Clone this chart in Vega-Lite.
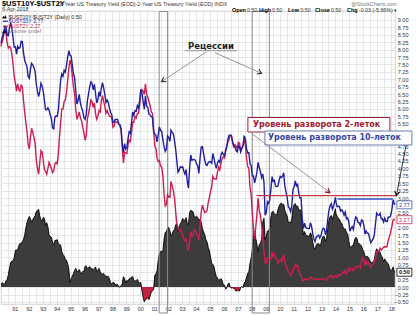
{
 "$schema": "https://vega.github.io/schema/vega-lite/v6.json",
 "width": 394, "height": 293,
 "autosize": {"type": "none"},
 "padding": {"left": 1, "top": 11, "right": 23, "bottom": 11},
 "background": "white",
 "config": {"view": {"stroke": "#c8c8c8", "strokeWidth": 0.8}, "font": "Liberation Sans",
   "axis": {"labelOverlap": false, "labelFontSize": 5.5, "labelColor": "#333", "gridColor": "#dcdcdc", "gridWidth": 0.7, "domain": false, "ticks": false, "tickSize": 0, "labelBound": false, "labelFlush": false, "title": null}},
 "datasets": {"yields": [
{"d":"1990-01-02","a":8.21,"b":8.11,"s":0.10},{"d":"1990-02-15","a":8.47,"b":8.32,"s":0.15},{"d":"1990-03-15","a":8.59,"b":8.50,"s":0.09},{"d":"1990-04-15","a":8.79,"b":8.68,"s":0.11},{"d":"1990-05-15","a":8.76,"b":8.55,"s":0.21},{"d":"1990-06-15","a":8.48,"b":8.22,"s":0.26},{"d":"1990-07-15","a":8.47,"b":8.05,"s":0.42},{"d":"1990-08-15","a":8.75,"b":8.10,"s":0.65},{"d":"1990-09-15","a":8.89,"b":8.05,"s":0.84},{"d":"1990-10-15","a":8.72,"b":7.85,"s":0.87},{"d":"1990-11-15","a":8.39,"b":7.50,"s":0.89},{"d":"1990-12-15","a":8.08,"b":7.10,"s":0.98},
{"d":"1991-01-15","a":8.09,"b":6.85,"s":1.24},{"d":"1991-02-15","a":7.85,"b":6.60,"s":1.25},{"d":"1991-03-15","a":8.11,"b":6.85,"s":1.26},{"d":"1991-04-15","a":8.04,"b":6.65,"s":1.39},{"d":"1991-05-15","a":8.07,"b":6.60,"s":1.47},{"d":"1991-06-15","a":8.28,"b":6.80,"s":1.48},{"d":"1991-07-15","a":8.27,"b":6.75,"s":1.52},{"d":"1991-08-15","a":7.90,"b":6.30,"s":1.60},{"d":"1991-09-15","a":7.65,"b":5.90,"s":1.75},{"d":"1991-10-15","a":7.53,"b":5.55,"s":1.98},{"d":"1991-11-15","a":7.42,"b":5.25,"s":2.17},{"d":"1991-12-15","a":7.09,"b":4.80,"s":2.29},
{"d":"1992-01-15","a":7.03,"b":4.65,"s":2.38},{"d":"1992-02-15","a":7.34,"b":5.05,"s":2.29},{"d":"1992-03-15","a":7.54,"b":5.35,"s":2.19},{"d":"1992-04-15","a":7.48,"b":5.20,"s":2.28},{"d":"1992-05-15","a":7.39,"b":5.05,"s":2.34},{"d":"1992-06-15","a":7.26,"b":4.85,"s":2.41},{"d":"1992-07-15","a":6.84,"b":4.30,"s":2.54},{"d":"1992-08-15","a":6.59,"b":4.00,"s":2.59},{"d":"1992-09-15","a":6.42,"b":3.80,"s":2.62},{"d":"1992-10-15","a":6.59,"b":4.20,"s":2.39},{"d":"1992-11-15","a":6.87,"b":4.60,"s":2.27},{"d":"1992-12-15","a":6.77,"b":4.55,"s":2.22},
{"d":"1993-01-15","a":6.60,"b":4.25,"s":2.35},{"d":"1993-02-15","a":6.26,"b":3.95,"s":2.31},{"d":"1993-03-15","a":5.98,"b":3.90,"s":2.08},{"d":"1993-04-15","a":5.97,"b":3.80,"s":2.17},{"d":"1993-05-15","a":6.04,"b":4.00,"s":2.04},{"d":"1993-06-15","a":5.96,"b":4.20,"s":1.76},{"d":"1993-07-15","a":5.81,"b":4.10,"s":1.71},{"d":"1993-08-15","a":5.68,"b":4.00,"s":1.68},{"d":"1993-09-15","a":5.36,"b":3.85,"s":1.51},{"d":"1993-10-15","a":5.33,"b":3.90,"s":1.43},{"d":"1993-11-15","a":5.72,"b":4.15,"s":1.57},{"d":"1993-12-15","a":5.77,"b":4.20,"s":1.57},
{"d":"1994-01-15","a":5.75,"b":4.15,"s":1.60},{"d":"1994-02-15","a":5.97,"b":4.50,"s":1.47},{"d":"1994-03-15","a":6.48,"b":5.05,"s":1.43},{"d":"1994-04-15","a":6.97,"b":5.55,"s":1.42},{"d":"1994-05-15","a":7.18,"b":6.00,"s":1.18},{"d":"1994-06-15","a":7.10,"b":6.00,"s":1.10},{"d":"1994-07-15","a":7.30,"b":6.25,"s":1.05},{"d":"1994-08-15","a":7.24,"b":6.30,"s":0.94},{"d":"1994-09-15","a":7.46,"b":6.55,"s":0.91},{"d":"1994-10-15","a":7.74,"b":6.95,"s":0.79},{"d":"1994-11-15","a":7.96,"b":7.35,"s":0.61},{"d":"1994-12-15","a":7.81,"b":7.65,"s":0.16},
{"d":"1995-01-15","a":7.78,"b":7.50,"s":0.28},{"d":"1995-02-15","a":7.47,"b":7.10,"s":0.37},{"d":"1995-03-15","a":7.20,"b":6.75,"s":0.45},{"d":"1995-04-15","a":7.06,"b":6.50,"s":0.56},{"d":"1995-05-15","a":6.63,"b":6.00,"s":0.63},{"d":"1995-06-15","a":6.17,"b":5.65,"s":0.52},{"d":"1995-07-15","a":6.28,"b":5.75,"s":0.53},{"d":"1995-08-15","a":6.49,"b":5.90,"s":0.59},{"d":"1995-09-15","a":6.20,"b":5.70,"s":0.50},{"d":"1995-10-15","a":6.04,"b":5.60,"s":0.44},{"d":"1995-11-15","a":5.93,"b":5.40,"s":0.53},{"d":"1995-12-15","a":5.71,"b":5.20,"s":0.51},
{"d":"1996-01-15","a":5.65,"b":4.95,"s":0.70},{"d":"1996-02-15","a":5.81,"b":5.10,"s":0.71},{"d":"1996-03-15","a":6.27,"b":5.65,"s":0.62},{"d":"1996-04-15","a":6.51,"b":5.85,"s":0.66},{"d":"1996-05-15","a":6.74,"b":6.05,"s":0.69},{"d":"1996-06-15","a":6.91,"b":6.30,"s":0.61},{"d":"1996-07-15","a":6.87,"b":6.25,"s":0.62},{"d":"1996-08-15","a":6.64,"b":6.05,"s":0.59},{"d":"1996-09-15","a":6.83,"b":6.20,"s":0.63},{"d":"1996-10-15","a":6.53,"b":5.85,"s":0.68},{"d":"1996-11-15","a":6.20,"b":5.65,"s":0.55},{"d":"1996-12-15","a":6.30,"b":5.75,"s":0.55},
{"d":"1997-01-15","a":6.58,"b":5.95,"s":0.63},{"d":"1997-02-15","a":6.42,"b":5.90,"s":0.52},{"d":"1997-03-15","a":6.69,"b":6.25,"s":0.44},{"d":"1997-04-15","a":6.89,"b":6.45,"s":0.44},{"d":"1997-05-15","a":6.71,"b":6.25,"s":0.46},{"d":"1997-06-15","a":6.49,"b":6.10,"s":0.39},{"d":"1997-07-15","a":6.22,"b":5.85,"s":0.37},{"d":"1997-08-15","a":6.30,"b":5.95,"s":0.35},{"d":"1997-09-15","a":6.21,"b":5.85,"s":0.36},{"d":"1997-10-15","a":6.03,"b":5.75,"s":0.28},{"d":"1997-11-15","a":5.88,"b":5.75,"s":0.13},{"d":"1997-12-15","a":5.81,"b":5.70,"s":0.11},
{"d":"1998-01-15","a":5.54,"b":5.38,"s":0.16},{"d":"1998-02-15","a":5.57,"b":5.43,"s":0.14},{"d":"1998-03-15","a":5.65,"b":5.57,"s":0.08},{"d":"1998-04-15","a":5.64,"b":5.55,"s":0.09},{"d":"1998-05-15","a":5.65,"b":5.56,"s":0.09},{"d":"1998-06-15","a":5.50,"b":5.49,"s":0.01},{"d":"1998-07-15","a":5.46,"b":5.46,"s":0.00},{"d":"1998-08-15","a":5.34,"b":5.29,"s":0.05},{"d":"1998-09-15","a":4.81,"b":4.71,"s":0.10},{"d":"1998-10-15","a":4.53,"b":4.18,"s":0.35},{"d":"1998-11-15","a":4.83,"b":4.54,"s":0.29},{"d":"1998-12-15","a":4.65,"b":4.51,"s":0.14},
{"d":"1999-01-15","a":4.72,"b":4.50,"s":0.22},{"d":"1999-02-15","a":5.00,"b":4.80,"s":0.20},{"d":"1999-03-15","a":5.23,"b":4.95,"s":0.28},{"d":"1999-04-15","a":5.18,"b":4.90,"s":0.28},{"d":"1999-05-15","a":5.54,"b":5.20,"s":0.34},{"d":"1999-06-15","a":5.90,"b":5.55,"s":0.35},{"d":"1999-07-15","a":5.79,"b":5.55,"s":0.24},{"d":"1999-08-15","a":5.94,"b":5.75,"s":0.19},{"d":"1999-09-15","a":5.92,"b":5.70,"s":0.22},{"d":"1999-10-15","a":6.11,"b":5.85,"s":0.26},{"d":"1999-11-15","a":6.03,"b":5.85,"s":0.18},{"d":"1999-12-15","a":6.28,"b":6.15,"s":0.13},
{"d":"2000-01-15","a":6.66,"b":6.50,"s":0.16},{"d":"2000-02-15","a":6.52,"b":6.65,"s":-0.13},{"d":"2000-03-15","a":6.26,"b":6.60,"s":-0.34},{"d":"2000-04-15","a":5.99,"b":6.49,"s":-0.50},{"d":"2000-05-15","a":6.44,"b":6.85,"s":-0.41},{"d":"2000-06-15","a":6.10,"b":6.50,"s":-0.40},{"d":"2000-07-15","a":6.05,"b":6.40,"s":-0.35},{"d":"2000-08-15","a":5.83,"b":6.25,"s":-0.42},{"d":"2000-09-15","a":5.80,"b":6.10,"s":-0.30},{"d":"2000-10-15","a":5.74,"b":5.90,"s":-0.16},{"d":"2000-11-15","a":5.72,"b":5.85,"s":-0.13},{"d":"2000-12-15","a":5.24,"b":5.30,"s":-0.06},
{"d":"2001-01-15","a":5.16,"b":4.76,"s":0.40},{"d":"2001-02-15","a":5.10,"b":4.66,"s":0.44},{"d":"2001-03-15","a":4.89,"b":4.34,"s":0.55},{"d":"2001-04-15","a":5.14,"b":4.23,"s":0.91},{"d":"2001-05-15","a":5.39,"b":4.26,"s":1.13},{"d":"2001-06-15","a":5.28,"b":4.08,"s":1.20},{"d":"2001-07-15","a":5.24,"b":4.04,"s":1.20},{"d":"2001-08-15","a":4.97,"b":3.76,"s":1.21},{"d":"2001-09-15","a":4.73,"b":3.12,"s":1.61},{"d":"2001-10-15","a":4.57,"b":2.73,"s":1.84},{"d":"2001-11-15","a":4.65,"b":2.78,"s":1.87},{"d":"2001-12-15","a":5.09,"b":3.11,"s":1.98},
{"d":"2002-01-15","a":5.04,"b":3.03,"s":2.01},{"d":"2002-02-15","a":4.91,"b":3.02,"s":1.89},{"d":"2002-03-15","a":5.28,"b":3.56,"s":1.72},{"d":"2002-04-15","a":5.21,"b":3.42,"s":1.79},{"d":"2002-05-15","a":5.16,"b":3.26,"s":1.90},{"d":"2002-06-15","a":4.93,"b":2.99,"s":1.94},{"d":"2002-07-15","a":4.65,"b":2.56,"s":2.09},{"d":"2002-08-15","a":4.26,"b":2.13,"s":2.13},{"d":"2002-09-15","a":3.87,"b":2.00,"s":1.87},{"d":"2002-10-15","a":3.94,"b":1.91,"s":2.03},{"d":"2002-11-15","a":4.05,"b":1.92,"s":2.13},{"d":"2002-12-15","a":4.03,"b":1.84,"s":2.19},
{"d":"2003-01-15","a":4.05,"b":1.74,"s":2.31},{"d":"2003-02-15","a":3.90,"b":1.63,"s":2.27},{"d":"2003-03-15","a":3.81,"b":1.57,"s":2.24},{"d":"2003-04-15","a":3.96,"b":1.62,"s":2.34},{"d":"2003-05-15","a":3.57,"b":1.42,"s":2.15},{"d":"2003-06-15","a":3.33,"b":1.23,"s":2.10},{"d":"2003-07-15","a":3.98,"b":1.47,"s":2.51},{"d":"2003-08-15","a":4.45,"b":1.86,"s":2.59},{"d":"2003-09-15","a":4.27,"b":1.71,"s":2.56},{"d":"2003-10-15","a":4.29,"b":1.75,"s":2.54},{"d":"2003-11-15","a":4.30,"b":1.93,"s":2.37},{"d":"2003-12-15","a":4.27,"b":1.91,"s":2.36},
{"d":"2004-01-15","a":4.15,"b":1.76,"s":2.39},{"d":"2004-02-15","a":4.08,"b":1.74,"s":2.34},{"d":"2004-03-15","a":3.83,"b":1.58,"s":2.25},{"d":"2004-04-15","a":4.35,"b":2.07,"s":2.28},{"d":"2004-05-15","a":4.72,"b":2.53,"s":2.19},{"d":"2004-06-15","a":4.73,"b":2.76,"s":1.97},{"d":"2004-07-15","a":4.50,"b":2.64,"s":1.86},{"d":"2004-08-15","a":4.28,"b":2.51,"s":1.77},{"d":"2004-09-15","a":4.13,"b":2.53,"s":1.60},{"d":"2004-10-15","a":4.10,"b":2.58,"s":1.52},{"d":"2004-11-15","a":4.19,"b":2.85,"s":1.34},{"d":"2004-12-15","a":4.23,"b":3.01,"s":1.22},
{"d":"2005-01-15","a":4.22,"b":3.22,"s":1.00},{"d":"2005-02-15","a":4.17,"b":3.38,"s":0.79},{"d":"2005-03-15","a":4.50,"b":3.73,"s":0.77},{"d":"2005-04-15","a":4.34,"b":3.65,"s":0.69},{"d":"2005-05-15","a":4.14,"b":3.64,"s":0.50},{"d":"2005-06-15","a":4.00,"b":3.64,"s":0.36},{"d":"2005-07-15","a":4.18,"b":3.87,"s":0.31},{"d":"2005-08-15","a":4.26,"b":4.04,"s":0.22},{"d":"2005-09-15","a":4.20,"b":3.95,"s":0.25},{"d":"2005-10-15","a":4.46,"b":4.17,"s":0.29},{"d":"2005-11-15","a":4.54,"b":4.33,"s":0.21},{"d":"2005-12-15","a":4.47,"b":4.39,"s":0.08},
{"d":"2006-01-15","a":4.42,"b":4.35,"s":0.07},{"d":"2006-02-15","a":4.57,"b":4.64,"s":-0.07},{"d":"2006-03-15","a":4.72,"b":4.74,"s":-0.02},{"d":"2006-04-15","a":4.99,"b":4.89,"s":0.10},{"d":"2006-05-15","a":5.11,"b":4.97,"s":0.14},{"d":"2006-06-15","a":5.11,"b":5.12,"s":-0.01},{"d":"2006-07-15","a":5.09,"b":5.12,"s":-0.03},{"d":"2006-08-15","a":4.88,"b":4.90,"s":-0.02},{"d":"2006-09-15","a":4.72,"b":4.77,"s":-0.05},{"d":"2006-10-15","a":4.73,"b":4.80,"s":-0.07},{"d":"2006-11-15","a":4.60,"b":4.74,"s":-0.14},{"d":"2006-12-15","a":4.56,"b":4.67,"s":-0.11},
{"d":"2007-01-15","a":4.76,"b":4.88,"s":-0.12},{"d":"2007-02-15","a":4.72,"b":4.85,"s":-0.13},{"d":"2007-03-15","a":4.56,"b":4.57,"s":-0.01},{"d":"2007-04-15","a":4.69,"b":4.67,"s":0.02},{"d":"2007-05-15","a":4.75,"b":4.77,"s":-0.02},{"d":"2007-06-15","a":5.10,"b":4.96,"s":0.14},{"d":"2007-07-15","a":5.00,"b":4.82,"s":0.18},{"d":"2007-08-15","a":4.67,"b":4.34,"s":0.33},{"d":"2007-09-15","a":4.52,"b":4.06,"s":0.46},{"d":"2007-10-15","a":4.53,"b":4.01,"s":0.52},{"d":"2007-11-15","a":4.15,"b":3.35,"s":0.80},{"d":"2007-12-15","a":4.10,"b":3.12,"s":0.98},
{"d":"2008-01-15","a":3.74,"b":2.48,"s":1.26},{"d":"2008-02-15","a":3.74,"b":1.97,"s":1.77},{"d":"2008-03-15","a":3.51,"b":1.62,"s":1.89},{"d":"2008-04-15","a":3.68,"b":2.05,"s":1.63},{"d":"2008-05-15","a":3.88,"b":2.45,"s":1.43},{"d":"2008-06-13","a":4.20,"b":3.00,"s":1.20},{"d":"2008-07-15","a":4.01,"b":2.57,"s":1.44},{"d":"2008-08-15","a":3.89,"b":2.42,"s":1.47},{"d":"2008-09-15","a":3.69,"b":2.08,"s":1.61},{"d":"2008-10-15","a":3.81,"b":1.61,"s":2.20},{"d":"2008-11-15","a":3.53,"b":1.21,"s":2.32},{"d":"2008-12-15","a":2.42,"b":0.82,"s":1.60},
{"d":"2009-01-15","a":2.52,"b":0.81,"s":1.71},{"d":"2009-02-15","a":2.87,"b":0.98,"s":1.89},{"d":"2009-03-15","a":2.82,"b":0.93,"s":1.89},{"d":"2009-04-15","a":2.93,"b":0.93,"s":2.00},{"d":"2009-05-15","a":3.29,"b":0.93,"s":2.36},{"d":"2009-06-15","a":3.72,"b":1.18,"s":2.54},{"d":"2009-07-15","a":3.56,"b":1.02,"s":2.54},{"d":"2009-08-15","a":3.59,"b":1.12,"s":2.47},{"d":"2009-09-15","a":3.40,"b":0.96,"s":2.44},{"d":"2009-10-15","a":3.39,"b":0.95,"s":2.44},{"d":"2009-11-15","a":3.40,"b":0.80,"s":2.60},{"d":"2009-12-15","a":3.59,"b":0.87,"s":2.72},
{"d":"2010-01-15","a":3.73,"b":0.93,"s":2.80},{"d":"2010-02-15","a":3.69,"b":0.86,"s":2.83},{"d":"2010-03-15","a":3.73,"b":0.96,"s":2.77},{"d":"2010-04-15","a":3.85,"b":1.06,"s":2.79},{"d":"2010-05-15","a":3.42,"b":0.83,"s":2.59},{"d":"2010-06-15","a":3.20,"b":0.72,"s":2.48},{"d":"2010-07-15","a":3.01,"b":0.62,"s":2.39},{"d":"2010-08-15","a":2.70,"b":0.52,"s":2.18},{"d":"2010-09-15","a":2.65,"b":0.47,"s":2.18},{"d":"2010-10-15","a":2.54,"b":0.38,"s":2.16},{"d":"2010-11-15","a":2.76,"b":0.45,"s":2.31},{"d":"2010-12-15","a":3.29,"b":0.62,"s":2.67},
{"d":"2011-01-15","a":3.39,"b":0.61,"s":2.78},{"d":"2011-02-15","a":3.58,"b":0.77,"s":2.81},{"d":"2011-03-15","a":3.41,"b":0.70,"s":2.71},{"d":"2011-04-15","a":3.46,"b":0.73,"s":2.73},{"d":"2011-05-15","a":3.17,"b":0.56,"s":2.61},{"d":"2011-06-15","a":3.00,"b":0.41,"s":2.59},{"d":"2011-07-15","a":3.00,"b":0.41,"s":2.59},{"d":"2011-08-15","a":2.30,"b":0.23,"s":2.07},{"d":"2011-09-15","a":1.98,"b":0.21,"s":1.77},{"d":"2011-10-15","a":2.15,"b":0.28,"s":1.87},{"d":"2011-11-15","a":2.01,"b":0.25,"s":1.76},{"d":"2011-12-15","a":1.98,"b":0.26,"s":1.72},
{"d":"2012-01-15","a":1.97,"b":0.24,"s":1.73},{"d":"2012-02-15","a":1.97,"b":0.28,"s":1.69},{"d":"2012-03-15","a":2.17,"b":0.34,"s":1.83},{"d":"2012-04-15","a":2.05,"b":0.29,"s":1.76},{"d":"2012-05-15","a":1.80,"b":0.29,"s":1.51},{"d":"2012-06-15","a":1.62,"b":0.29,"s":1.33},{"d":"2012-07-15","a":1.53,"b":0.25,"s":1.28},{"d":"2012-08-15","a":1.68,"b":0.27,"s":1.41},{"d":"2012-09-15","a":1.72,"b":0.26,"s":1.46},{"d":"2012-10-15","a":1.75,"b":0.28,"s":1.47},{"d":"2012-11-15","a":1.65,"b":0.27,"s":1.38},{"d":"2012-12-15","a":1.72,"b":0.26,"s":1.46},
{"d":"2013-01-15","a":1.91,"b":0.27,"s":1.64},{"d":"2013-02-15","a":1.98,"b":0.27,"s":1.71},{"d":"2013-03-15","a":1.96,"b":0.26,"s":1.70},{"d":"2013-04-15","a":1.76,"b":0.23,"s":1.53},{"d":"2013-05-15","a":1.93,"b":0.25,"s":1.68},{"d":"2013-06-15","a":2.30,"b":0.33,"s":1.97},{"d":"2013-07-15","a":2.58,"b":0.34,"s":2.24},{"d":"2013-08-15","a":2.74,"b":0.36,"s":2.38},{"d":"2013-09-15","a":2.81,"b":0.40,"s":2.41},{"d":"2013-10-15","a":2.62,"b":0.34,"s":2.28},{"d":"2013-11-15","a":2.72,"b":0.30,"s":2.42},{"d":"2013-12-31","a":3.02,"b":0.38,"s":2.64},
{"d":"2014-01-15","a":2.86,"b":0.39,"s":2.47},{"d":"2014-02-15","a":2.71,"b":0.33,"s":2.38},{"d":"2014-03-15","a":2.72,"b":0.40,"s":2.32},{"d":"2014-04-15","a":2.71,"b":0.42,"s":2.29},{"d":"2014-05-15","a":2.56,"b":0.39,"s":2.17},{"d":"2014-06-15","a":2.60,"b":0.45,"s":2.15},{"d":"2014-07-15","a":2.54,"b":0.51,"s":2.03},{"d":"2014-08-15","a":2.42,"b":0.47,"s":1.95},{"d":"2014-09-15","a":2.53,"b":0.57,"s":1.96},{"d":"2014-10-15","a":2.30,"b":0.45,"s":1.85},{"d":"2014-11-15","a":2.33,"b":0.53,"s":1.80},{"d":"2014-12-15","a":2.21,"b":0.64,"s":1.57},
{"d":"2015-01-15","a":1.88,"b":0.55,"s":1.33},{"d":"2015-02-15","a":1.98,"b":0.62,"s":1.36},{"d":"2015-03-15","a":2.04,"b":0.64,"s":1.40},{"d":"2015-04-15","a":1.94,"b":0.54,"s":1.40},{"d":"2015-05-15","a":2.20,"b":0.61,"s":1.59},{"d":"2015-06-15","a":2.36,"b":0.69,"s":1.67},{"d":"2015-07-15","a":2.32,"b":0.67,"s":1.65},{"d":"2015-08-15","a":2.17,"b":0.70,"s":1.47},{"d":"2015-09-15","a":2.17,"b":0.71,"s":1.46},{"d":"2015-10-15","a":2.07,"b":0.64,"s":1.43},{"d":"2015-11-15","a":2.26,"b":0.88,"s":1.38},{"d":"2015-12-15","a":2.24,"b":0.98,"s":1.26},
{"d":"2016-01-15","a":2.09,"b":0.90,"s":1.19},{"d":"2016-02-15","a":1.78,"b":0.73,"s":1.05},{"d":"2016-03-15","a":1.89,"b":0.88,"s":1.01},{"d":"2016-04-15","a":1.81,"b":0.77,"s":1.04},{"d":"2016-05-15","a":1.81,"b":0.82,"s":0.99},{"d":"2016-06-15","a":1.64,"b":0.73,"s":0.91},{"d":"2016-07-15","a":1.50,"b":0.67,"s":0.83},{"d":"2016-08-15","a":1.56,"b":0.74,"s":0.82},{"d":"2016-09-15","a":1.63,"b":0.77,"s":0.86},{"d":"2016-10-15","a":1.76,"b":0.84,"s":0.92},{"d":"2016-11-15","a":2.14,"b":0.98,"s":1.16},{"d":"2016-12-15","a":2.49,"b":1.20,"s":1.29},
{"d":"2017-01-15","a":2.43,"b":1.21,"s":1.22},{"d":"2017-02-15","a":2.42,"b":1.20,"s":1.22},{"d":"2017-03-15","a":2.48,"b":1.31,"s":1.17},{"d":"2017-04-15","a":2.30,"b":1.24,"s":1.06},{"d":"2017-05-15","a":2.30,"b":1.30,"s":1.00},{"d":"2017-06-15","a":2.19,"b":1.34,"s":0.85},{"d":"2017-07-15","a":2.32,"b":1.37,"s":0.95},{"d":"2017-08-15","a":2.21,"b":1.34,"s":0.87},{"d":"2017-09-15","a":2.20,"b":1.38,"s":0.82},{"d":"2017-10-15","a":2.36,"b":1.57,"s":0.79},{"d":"2017-11-15","a":2.35,"b":1.70,"s":0.65},{"d":"2017-12-15","a":2.40,"b":1.84,"s":0.56},
{"d":"2018-01-15","a":2.58,"b":2.03,"s":0.55},{"d":"2018-02-21","a":2.94,"b":2.26,"s":0.68},{"d":"2018-03-15","a":2.84,"b":2.28,"s":0.56},{"d":"2018-04-06","a":2.77,"b":2.27,"s":0.50}
 ]},
 "layer": [
  {"data": {"name": "yields"},
   "mark": {"type": "area", "color": {"gradient": "linear", "x1": 0, "y1": 0, "x2": 0, "y2": 1, "stops": [{"offset": 0, "color": "#3c3c3c"}, {"offset": 0.8498, "color": "#3c3c3c"}, {"offset": 0.8498, "color": "#c42040"}, {"offset": 1, "color": "#c42040"}]}},
   "encoding": {
    "x": {"field": "d", "type": "temporal", "title": null,
      "scale": {"type": "utc", "domain": [{"year": 1990, "month": 1, "date": 3, "utc": true}, {"year": 2018, "month": 4, "date": 10, "utc": true}]},
      "axis": {"orient": "bottom", "tickCount": {"interval": "month", "step": 6}, "labelExpr": "utcmonth(datum.value) == 0 ? utcFormat(datum.value, '%y') : ''", "grid": true, "labelPadding": 2, "labelOverlap": false}},
    "y": {"field": "s", "type": "quantitative", "title": null,
      "scale": {"domain": [-0.57, 9.30], "nice": false, "zero": false},
      "axis": {"orient": "right", "tickCount": 200, "values": [-0.5,-0.25,0,0.25,0.5,0.75,1,1.25,1.5,1.75,2,2.25,2.5,2.75,3,3.25,3.5,3.75,4,4.25,4.5,4.75,5,5.25,5.5,5.75,6,6.25,6.5,6.75,7,7.25,7.5,7.75,8,8.25,8.5,8.75,9],
        "labelExpr": "indexof([0.5,2.25,2.75,5,5.25], datum.value) >= 0 ? '' : format(datum.value, '.2f')",
        "grid": true, "labelPadding": 13, "labelAlign": "right", "labelOverlap": false, "labelSeparation": 0}},
    "y2": {"datum": 0}}},
  {"data": {"name": "yields"}, "mark": {"type": "line", "color": "#000000", "strokeWidth": 0.9},
   "encoding": {"x": {"field": "d", "type": "temporal"}, "y": {"field": "s", "type": "quantitative"}}},
  {"data": {"values": [{"d": "2001-05-10", "e": "2001-12-16"}, {"d": "2008-01-11", "e": "2009-04-05"}]},
   "mark": {"type": "rect", "fillOpacity": 0, "stroke": "#8c8c8c", "strokeWidth": 1},
   "encoding": {"x": {"field": "d", "type": "temporal"}, "x2": {"field": "e"}, "y": {"datum": 9.283}, "y2": {"datum": -0.873}}},
  {"data": {"name": "yields"}, "mark": {"type": "line", "color": "#cc1f4f", "strokeWidth": 1.4},
   "encoding": {"x": {"field": "d", "type": "temporal"}, "y": {"field": "b", "type": "quantitative"}}},
  {"data": {"name": "yields"}, "mark": {"type": "line", "color": "#1f1fa0", "strokeWidth": 1.4},
   "encoding": {"x": {"field": "d", "type": "temporal"}, "y": {"field": "a", "type": "quantitative"}}},
  {"data": {"values": [{"d": "2008-05-05", "e": "2018-05-23", "v": 3.078}]},
   "mark": {"type": "rule", "color": "#c8383f", "strokeWidth": 1.3},
   "encoding": {"x": {"field": "d", "type": "temporal"}, "x2": {"field": "e"}, "y": {"field": "v", "type": "quantitative"}}},
  {"data": {"values": [{"d": "2014-02-26", "e": "2018-02-14", "v": 2.967}]},
   "mark": {"type": "rule", "color": "#3a4fc0", "strokeWidth": 1.3},
   "encoding": {"x": {"field": "d", "type": "temporal"}, "x2": {"field": "e"}, "y": {"field": "v", "type": "quantitative"}}},
  {"data": {"values": [{"d": "2007-09-20", "e": "2017-11-27", "v": 5.712, "w": 5.224}]},
   "mark": {"type": "rect", "fill": "white", "stroke": "#9b2335", "strokeWidth": 1},
   "encoding": {"x": {"field": "d", "type": "temporal"}, "x2": {"field": "e"}, "y": {"field": "v", "type": "quantitative"}, "y2": {"field": "w"}}},
  {"data": {"values": [{"d": "2008-12-09", "e": "2019-06-27", "v": 5.258, "w": 4.786}]},
   "mark": {"type": "rect", "fill": "white", "stroke": "#6a7bb0", "strokeWidth": 1},
   "encoding": {"x": {"field": "d", "type": "temporal"}, "x2": {"field": "e"}, "y": {"field": "v", "type": "quantitative"}, "y2": {"field": "w"}}},
  {"data": {"values": [{"d": "2008-01-29", "v": 5.47, "t": "Уровень разворота 2-леток"}]},
   "mark": {"type": "text", "align": "left", "baseline": "middle", "font": "DejaVu Sans", "fontWeight": "bold", "fontSize": 8, "color": "#a3172f"},
   "encoding": {"x": {"field": "d", "type": "temporal"}, "y": {"field": "v", "type": "quantitative"}, "text": {"field": "t"}}},
  {"data": {"values": [{"d": "2009-02-26", "v": 5.015, "t": "Уровень разворота 10-леток"}]},
   "mark": {"type": "text", "align": "left", "baseline": "middle", "font": "DejaVu Sans", "fontWeight": "bold", "fontSize": 8, "color": "#3344aa"},
   "encoding": {"x": {"field": "d", "type": "temporal"}, "y": {"field": "v", "type": "quantitative"}, "text": {"field": "t"}}},
  {"data": {"values": [{"d": "2005-01-25", "v": 8.131, "t": "Рецессии"}]},
   "mark": {"type": "text", "align": "center", "baseline": "middle", "font": "DejaVu Sans", "fontWeight": "bold", "fontSize": 8.5, "color": "#222222"},
   "encoding": {"x": {"field": "d", "type": "temporal"}, "y": {"field": "v", "type": "quantitative"}, "text": {"field": "t"}}},
  {"data": {"values": [
     {"d": "2003-03-14", "e": "2006-12-06", "v": 7.963, "w": 7.963},
     {"d": "2004-10-04", "e": "2001-07-12", "v": 7.929, "w": 6.918},
     {"d": "2005-05-09", "e": "2008-09-14", "v": 7.895, "w": 7.201},
     {"d": "2007-12-26", "e": "2013-08-08", "v": 5.18, "w": 3.179}]},
   "mark": {"type": "rule", "color": "#8a8a8a", "strokeWidth": 0.9},
   "encoding": {"x": {"field": "d", "type": "temporal"}, "x2": {"field": "e"}, "y": {"field": "v", "type": "quantitative"}, "y2": {"field": "w"}}},
  {"data": {"values": [{"d": "2019-01-21", "e": "2018-05-17", "v": 4.752, "w": 3.085}]},
   "mark": {"type": "rule", "color": "#222222", "strokeWidth": 0.9},
   "encoding": {"x": {"field": "d", "type": "temporal"}, "x2": {"field": "e"}, "y": {"field": "v", "type": "quantitative"}, "y2": {"field": "w"}}},
  {"data": {"values": [{"d": "2001-07-12", "v": 6.918}]},
   "mark": {"type": "point", "shape": "M-1,-0.6L0,0L-1,0.6", "filled": false, "size": 70, "angle": 146, "stroke": "#222222", "strokeWidth": 1, "opacity": 1},
   "encoding": {"x": {"field": "d", "type": "temporal"}, "y": {"field": "v", "type": "quantitative"}}},
  {"data": {"values": [{"d": "2008-09-14", "v": 7.201}]},
   "mark": {"type": "point", "shape": "M-1,-0.6L0,0L-1,0.6", "filled": false, "size": 70, "angle": 24, "stroke": "#222222", "strokeWidth": 1, "opacity": 1},
   "encoding": {"x": {"field": "d", "type": "temporal"}, "y": {"field": "v", "type": "quantitative"}}},
  {"data": {"values": [{"d": "2013-08-08", "v": 3.179}]},
   "mark": {"type": "point", "shape": "M-1,-0.6L0,0L-1,0.6", "filled": false, "size": 70, "angle": 37, "stroke": "#a01020", "strokeWidth": 1.2, "opacity": 1},
   "encoding": {"x": {"field": "d", "type": "temporal"}, "y": {"field": "v", "type": "quantitative"}}},
  {"data": {"values": [{"d": "2018-05-17", "v": 3.085}]},
   "mark": {"type": "point", "shape": "M-1,-0.6L0,0L-1,0.6", "filled": false, "size": 70, "angle": 101, "stroke": "#111111", "strokeWidth": 1.2, "opacity": 1},
   "encoding": {"x": {"field": "d", "type": "temporal"}, "y": {"field": "v", "type": "quantitative"}}},
  {"data": {"values": [{"d": "2018-05-30", "e": "2019-06-27", "v": 2.905, "w": 2.635}]},
   "mark": {"type": "rect", "fill": "white", "stroke": "#4050a0", "strokeWidth": 0.8},
   "encoding": {"x": {"field": "d", "type": "temporal"}, "x2": {"field": "e"}, "y": {"field": "v", "type": "quantitative"}, "y2": {"field": "w"}}},
  {"data": {"values": [{"d": "2018-05-30", "e": "2019-06-27", "v": 2.405, "w": 2.135}]},
   "mark": {"type": "rect", "fill": "white", "stroke": "#cc1f4f", "strokeWidth": 0.8},
   "encoding": {"x": {"field": "d", "type": "temporal"}, "x2": {"field": "e"}, "y": {"field": "v", "type": "quantitative"}, "y2": {"field": "w"}}},
  {"data": {"values": [{"d": "2018-05-30", "e": "2019-06-27", "v": 0.635, "w": 0.365}]},
   "mark": {"type": "rect", "fill": "white", "stroke": "#000000", "strokeWidth": 0.8},
   "encoding": {"x": {"field": "d", "type": "temporal"}, "x2": {"field": "e"}, "y": {"field": "v", "type": "quantitative"}, "y2": {"field": "w"}}},
  {"data": {"values": [{"d": "2018-12-12", "v": 2.77, "t": "2.77"}]},
   "mark": {"type": "text", "align": "center", "baseline": "middle", "fontSize": 5.5, "color": "#1f1f90"},
   "encoding": {"x": {"field": "d", "type": "temporal"}, "y": {"field": "v", "type": "quantitative"}, "text": {"field": "t"}}},
  {"data": {"values": [{"d": "2018-12-12", "v": 2.27, "t": "2.27"}]},
   "mark": {"type": "text", "align": "center", "baseline": "middle", "fontSize": 5.5, "color": "#cc1f4f"},
   "encoding": {"x": {"field": "d", "type": "temporal"}, "y": {"field": "v", "type": "quantitative"}, "text": {"field": "t"}}},
  {"data": {"values": [{"d": "2018-12-12", "v": 0.50, "t": "0.50"}]},
   "mark": {"type": "text", "align": "center", "baseline": "middle", "fontSize": 5.5, "fontWeight": "bold", "color": "#000000"},
   "encoding": {"x": {"field": "d", "type": "temporal"}, "y": {"field": "v", "type": "quantitative"}, "text": {"field": "t"}}},
  {"data": {"values": [{"d": "1990-01-27", "v": 9.536, "t": "$UST10Y-$UST2Y"}]},
   "mark": {"type": "text", "align": "left", "baseline": "middle", "fontSize": 7.5, "fontWeight": "bold", "color": "#000000"},
   "encoding": {"x": {"field": "d", "type": "temporal"}, "y": {"field": "v", "type": "quantitative"}, "text": {"field": "t"}}},
  {"data": {"values": [{"d": "1994-01-07", "v": 9.519, "t": "10-Year US Treasury Yield (EOD)-2-Year US Treasury Yield (EOD) INDX"}, {"d": "1990-01-27", "v": 9.351, "t": "6-Apr-2018"}, {"d": "2007-08-25", "v": 9.334, "t": "0.50"}, {"d": "2009-06-11", "v": 9.334, "t": "0.50"}, {"d": "2011-06-27", "v": 9.334, "t": "0.50"}, {"d": "2013-09-04", "v": 9.334, "t": "0.50"}, {"d": "2015-09-07", "v": 9.334, "t": "-0.03 (-5.66%) ▾"}]},
   "mark": {"type": "text", "align": "left", "baseline": "middle", "fontSize": 5.3, "color": "#333333"},
   "encoding": {"x": {"field": "d", "type": "temporal"}, "y": {"field": "v", "type": "quantitative"}, "text": {"field": "t"}}},
  {"data": {"values": [{"d": "2006-07-28", "v": 9.334, "t": "Open"}, {"d": "2008-07-05", "v": 9.334, "t": "High"}, {"d": "2010-08-04", "v": 9.334, "t": "Low"}, {"d": "2012-07-11", "v": 9.334, "t": "Close"}, {"d": "2014-10-28", "v": 9.334, "t": "Chg"}]},
   "mark": {"type": "text", "align": "left", "baseline": "middle", "fontSize": 5.5, "fontWeight": "bold", "color": "#000000"},
   "encoding": {"x": {"field": "d", "type": "temporal"}, "y": {"field": "v", "type": "quantitative"}, "text": {"field": "t"}}},
  {"data": {"values": [{"d": "2018-05-30", "v": 9.536, "t": "@StockCharts.com"}]},
   "mark": {"type": "text", "align": "right", "baseline": "middle", "fontSize": 5.3, "color": "#777777"},
   "encoding": {"x": {"field": "d", "type": "temporal"}, "y": {"field": "v", "type": "quantitative"}, "text": {"field": "t"}}},
  {"data": {"values": [{"d": "1990-07-28", "v": 9.108, "t": "$UST10Y-$UST2Y (Daily) 0.50"}]},
   "mark": {"type": "text", "align": "left", "baseline": "middle", "fontSize": 5.3, "color": "#222222"},
   "encoding": {"x": {"field": "d", "type": "temporal"}, "y": {"field": "v", "type": "quantitative"}, "text": {"field": "t"}}},
  {"data": {"values": [{"d": "1990-07-28", "v": 8.953, "t": "$UST10Y 2.77"}]},
   "mark": {"type": "text", "align": "left", "baseline": "middle", "fontSize": 5.3, "color": "#1f1fa0"},
   "encoding": {"x": {"field": "d", "type": "temporal"}, "y": {"field": "v", "type": "quantitative"}, "text": {"field": "t"}}},
  {"data": {"values": [{"d": "1990-07-28", "v": 8.785, "t": "$UST2Y 2.27"}]},
   "mark": {"type": "text", "align": "left", "baseline": "middle", "fontSize": 5.3, "color": "#cc1f4f"},
   "encoding": {"x": {"field": "d", "type": "temporal"}, "y": {"field": "v", "type": "quantitative"}, "text": {"field": "t"}}},
  {"data": {"values": [{"d": "1990-07-28", "v": 8.616, "t": "Volume undef"}]},
   "mark": {"type": "text", "align": "left", "baseline": "middle", "fontSize": 5.3, "color": "#997788"},
   "encoding": {"x": {"field": "d", "type": "temporal"}, "y": {"field": "v", "type": "quantitative"}, "text": {"field": "t"}}},
  {"data": {"values": [{"d": "1990-02-22", "e": "1990-07-02", "v": 8.953}]},
   "mark": {"type": "rule", "color": "#1f1fa0", "strokeWidth": 1.2},
   "encoding": {"x": {"field": "d", "type": "temporal"}, "x2": {"field": "e"}, "y": {"field": "v", "type": "quantitative"}}},
  {"data": {"values": [{"d": "1990-02-22", "e": "1990-07-02", "v": 8.785}]},
   "mark": {"type": "rule", "color": "#cc1f4f", "strokeWidth": 1.2},
   "encoding": {"x": {"field": "d", "type": "temporal"}, "x2": {"field": "e"}, "y": {"field": "v", "type": "quantitative"}}},
  {"data": {"values": [{"d": "1990-04-02", "v": 9.108}, {"d": "1990-04-02", "v": 8.616}]},
   "mark": {"type": "point", "shape": "M-1,0.8L-0.4,-0.4L0,0.2L0.5,-0.8L1,0.8Z", "filled": true, "size": 22, "color": "#111111", "opacity": 1},
   "encoding": {"x": {"field": "d", "type": "temporal"}, "y": {"field": "v", "type": "quantitative"}}}
 ]
}
